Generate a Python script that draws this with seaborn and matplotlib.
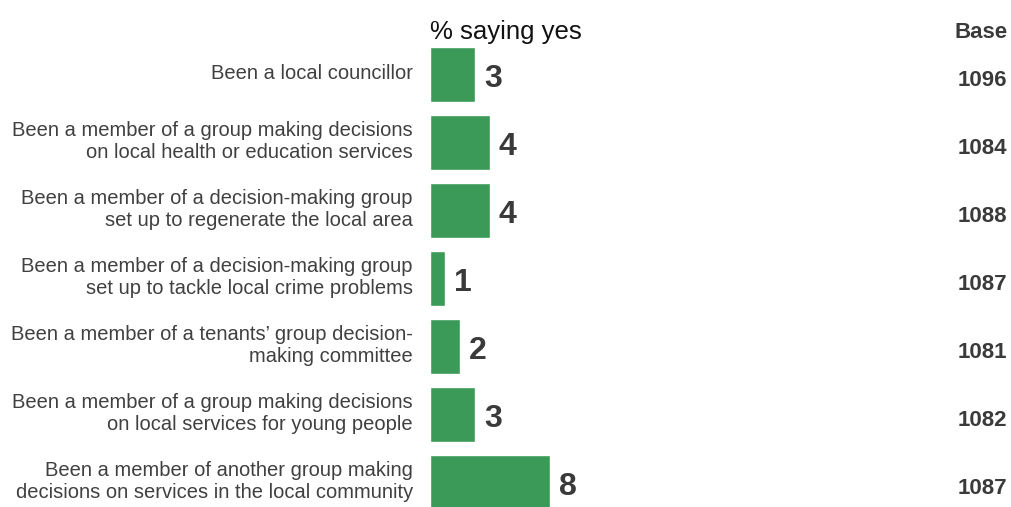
import matplotlib
matplotlib.use("Agg")
import matplotlib.pyplot as plt
import seaborn as sns
import pandas as pd

categories = [
    "Been a local councillor",
    "Been a member of a group making decisions\non local health or education services",
    "Been a member of a decision-making group\nset up to regenerate the local area",
    "Been a member of a decision-making group\nset up to tackle local crime problems",
    "Been a member of a tenants\u2019 group decision-\nmaking committee",
    "Been a member of a group making decisions\non local services for young people",
    "Been a member of another group making\ndecisions on services in the local community",
]
pct_yes = [3, 4, 4, 1, 2, 3, 8]
base = [1096, 1084, 1088, 1087, 1081, 1082, 1087]

sns.set_theme(style="white")
plt.rcParams["font.family"] = ["Liberation Sans", "DejaVu Sans"]

GREEN = "#3b9a57"
TEXT = "#3a3a3a"

df = pd.DataFrame({"category": categories, "pct": pct_yes})

fig = plt.figure(figsize=(10.12, 5.07), dpi=100)
W, H = 1012, 507
x0 = 430
ax = fig.add_axes([x0 / W, 0, 1 - x0 / W, 1])

sns.barplot(data=df, x="pct", y="category", orient="h", color=GREEN,
            saturation=1, width=0.8, ax=ax)

px_per_unit = 15.0
ax.set_xlim(0, (W - x0) / px_per_unit)
ax.set_ylim((H - 74.5) / 68, -74.5 / 68)
ax.set_axis_off()

for i, (cat, v, b) in enumerate(zip(categories, pct_yes, base)):
    ax.text(-17 / px_per_unit, i - 0.01, cat, ha="right", va="center",
            fontsize=14.5, color="#404040", linespacing=1.22)
    ax.text(v + 9 / px_per_unit, i + 0.06, f"{v}", ha="left", va="center",
            fontsize=23, fontweight="bold", color=TEXT)
    ax.text((1007 - x0) / px_per_unit, i + 0.09, f"{b}", ha="right",
            va="center", fontsize=16, fontweight="bold", color=TEXT)

fig.text(430 / W, 1 - 32 / H, "% saying yes", ha="left", va="center",
         fontsize=18.5, color="#111111")
fig.text(1008 / W, 1 - 32 / H, "Base", ha="right", va="center",
         fontsize=16, fontweight="bold", color=TEXT)

fig.savefig("out.png", dpi=100)
